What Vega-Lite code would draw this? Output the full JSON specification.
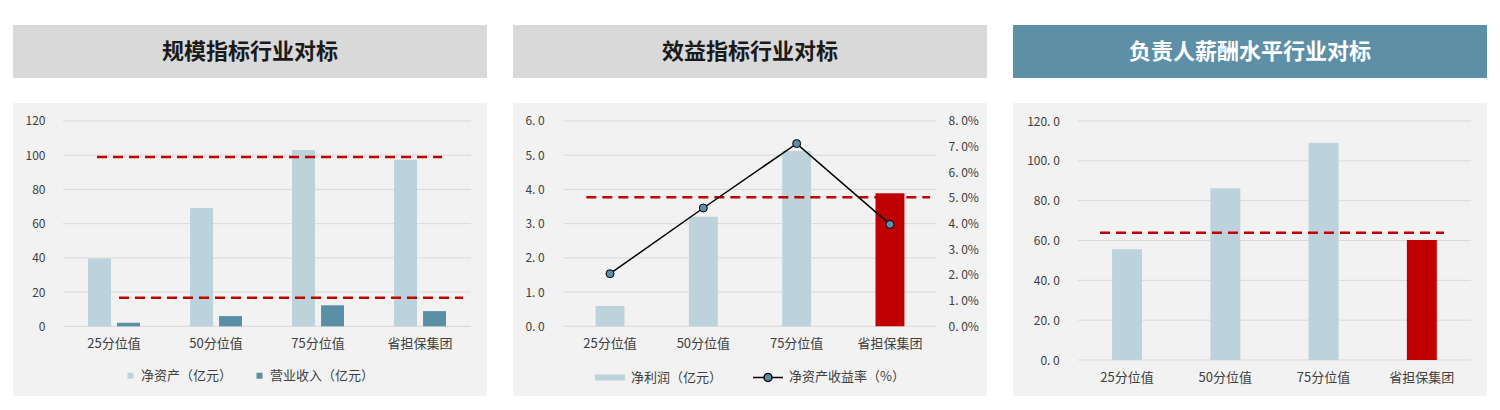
{
  "$schema": "https://vega.github.io/schema/vega-lite/v6.json",
  "padding": {"left": 13, "top": 25, "right": 0, "bottom": 0},
  "background": "white",
  "spacing": 26,
  "resolve": {"scale": {"color": "independent"}, "legend": {"color": "independent"}},
  "hconcat": [
    {
      "spacing": 25,
      "bounds": "flush",
      "resolve": {"scale": {"color": "independent"}, "legend": {"color": "independent"}},
      "vconcat": [
        {
          "width": 474,
          "height": 53,
          "view": {"fill": "#d9d9d9", "stroke": null},
          "data": {"values": [{"t": "规模指标行业对标"}]},
          "mark": {"type": "text", "fontSize": 22, "fontWeight": "bold", "color": "#1a1a1a"},
          "encoding": {"text": {"field": "t"}}
        },
        {
          "width": 474,
          "height": 293,
          "view": {"fill": "#f2f2f2", "stroke": null},
          "data": {
            "values": [
              {"cat": "25分位值", "s": "净资产（亿元）", "v": 39.7},
              {"cat": "50分位值", "s": "净资产（亿元）", "v": 69.1},
              {"cat": "75分位值", "s": "净资产（亿元）", "v": 103.0},
              {"cat": "省担保集团", "s": "净资产（亿元）", "v": 97.4},
              {"cat": "25分位值", "s": "营业收入（亿元）", "v": 2.1},
              {"cat": "50分位值", "s": "营业收入（亿元）", "v": 6.0},
              {"cat": "75分位值", "s": "营业收入（亿元）", "v": 12.3},
              {"cat": "省担保集团", "s": "营业收入（亿元）", "v": 8.9}
            ]
          },
          "encoding": {
            "x": {
              "field": "cat", "type": "nominal", "title": null,
              "scale": {"paddingInner": 0, "paddingOuter": 0.3235, "align": 0.758},
              "axis": {"orient": "bottom", "offset": -69.7, "labelAngle": 0, "labelPadding": 11, "labelFontSize": 13}
            },
            "y": {
              "field": "v", "type": "quantitative", "title": null,
              "scale": {"domain": [-40.7, 130.5], "nice": false, "zero": false},
              "axis": {"values": [0, 20, 40, 60, 80, 100, 120], "offset": -34, "labelPadding": 2}
            }
          },
          "layer": [
            {
              "data": {"values": [{"v": 0}, {"v": 20}, {"v": 40}, {"v": 60}, {"v": 80}, {"v": 100}, {"v": 120}]},
              "mark": {"type": "rule", "color": "#d9d9d9", "strokeWidth": 1},
              "encoding": {
                "x": {"datum": "25分位值", "type": "nominal", "bandPosition": 0},
                "x2": {"datum": "省担保集团", "bandPosition": 1}
              }
            },
            {
              "mark": {"type": "bar"},
              "encoding": {
                "xOffset": {"field": "s", "type": "nominal", "scale": {"paddingInner": 0.207, "paddingOuter": 0.862}},
                "color": {
                  "field": "s", "type": "nominal",
                  "scale": {"domain": ["净资产（亿元）", "营业收入（亿元）"], "range": ["#bdd3dc", "#5b8fa6"]},
                  "legend": {
                    "orient": "none", "legendX": 111, "legendY": 266, "direction": "horizontal",
                    "title": null, "symbolType": "square", "symbolSize": 36,
                    "labelFontSize": 13, "labelOffset": 4, "columnPadding": 20
                  }
                }
              }
            },
            {
              "data": {"values": [{"from": "25分位值", "to": "省担保集团", "v": 98.9}]},
              "mark": {"type": "rule", "color": "#c00000", "strokeWidth": 2.5, "strokeDash": [10, 6]},
              "encoding": {
                "x": {"field": "from", "type": "nominal", "bandPosition": 0.333},
                "x2": {"field": "to", "bandPosition": 0.716}
              }
            },
            {
              "data": {"values": [{"from": "25分位值", "to": "省担保集团", "v": 16.7}]},
              "mark": {"type": "rule", "color": "#c00000", "strokeWidth": 2.5, "strokeDash": [10, 6]},
              "encoding": {
                "x": {"field": "from", "type": "nominal", "bandPosition": 0.549},
                "x2": {"field": "to", "bandPosition": 0.922}
              }
            }
          ]
        }
      ]
    },
    {
      "spacing": 25,
      "bounds": "flush",
      "resolve": {"scale": {"color": "independent"}, "legend": {"color": "independent"}},
      "vconcat": [
        {
          "width": 474,
          "height": 53,
          "view": {"fill": "#d9d9d9", "stroke": null},
          "data": {"values": [{"t": "效益指标行业对标"}]},
          "mark": {"type": "text", "fontSize": 22, "fontWeight": "bold", "color": "#1a1a1a"},
          "encoding": {"text": {"field": "t"}}
        },
        {
          "width": 474,
          "height": 293,
          "view": {"fill": "#f2f2f2", "stroke": null},
          "data": {
            "values": [
              {"cat": "25分位值", "s": "净利润（亿元）", "v": 0.59, "r": 0.0205},
              {"cat": "50分位值", "s": "净利润（亿元）", "v": 3.2, "r": 0.0461},
              {"cat": "75分位值", "s": "净利润（亿元）", "v": 5.12, "r": 0.0712},
              {"cat": "省担保集团", "s": "净利润（亿元）", "v": 3.89, "r": 0.0397}
            ]
          },
          "encoding": {
            "x": {
              "field": "cat", "type": "nominal", "title": null,
              "scale": {"paddingInner": 0, "paddingOuter": 0.54, "align": 0.5},
              "axis": {"orient": "bottom", "offset": -69.7, "labelAngle": 0, "labelPadding": 11, "labelFontSize": 13}
            }
          },
          "layer": [
            {
              "encoding": {
                "y": {
                  "field": "v", "type": "quantitative", "title": null,
                  "scale": {"domain": [-2.037, 6.526], "nice": false, "zero": false},
                  "axis": {
                    "values": [0, 1, 2, 3, 4, 5, 6], "offset": -33.3, "labelPadding": 2,
                    "labelExpr": "replace(format(datum.value, '.1f'), '.', '. ')"
                  }
                }
              },
              "layer": [
                {
                  "data": {"values": [{"v": 0}, {"v": 1}, {"v": 2}, {"v": 3}, {"v": 4}, {"v": 5}, {"v": 6}]},
                  "mark": {"type": "rule", "color": "#d9d9d9", "strokeWidth": 1},
                  "encoding": {
                    "x": {"datum": "25分位值", "type": "nominal", "bandPosition": 0},
                    "x2": {"datum": "省担保集团", "bandPosition": 1}
                  }
                },
                {
                  "mark": {"type": "bar", "width": {"band": 0.31}},
                  "encoding": {
                    "color": {
                      "field": "s", "type": "nominal",
                      "condition": {"test": "datum.cat === '省担保集团'", "value": "#c00000"},
                      "scale": {"domain": ["净利润（亿元）", "净资产收益率（%）"], "range": ["#bdd3dc", "#5b8fa6"]},
                      "legend": {
                        "orient": "none", "legendX": 81, "legendY": 258, "direction": "horizontal",
                        "title": null, "symbolSize": 900,
                        "labelFontSize": 13, "labelOffset": 5, "columnPadding": 27,
                        "encode": {
                          "symbols": {
                            "update": {
                              "shape": {"signal": "datum.value === '净利润（亿元）' ? 'M-1,-0.2H1V0.2H-1Z' : 'M-1,0H-0.267M0.267,0H1M0.267,0A0.267,0.267,0,1,1,-0.267,0A0.267,0.267,0,1,1,0.267,0Z'"},
                              "stroke": {"signal": "datum.value === '净利润（亿元）' ? 'transparent' : 'black'"},
                              "strokeWidth": {"value": 1.5},
                              "opacity": {"value": 1}
                            }
                          }
                        }
                      }
                    }
                  }
                },
                {
                  "data": {"values": [{"from": "25分位值", "to": "省担保集团", "v": 3.77}]},
                  "mark": {"type": "rule", "color": "#c00000", "strokeWidth": 2.5, "strokeDash": [10, 6]},
                  "encoding": {
                    "x": {"field": "from", "type": "nominal", "bandPosition": 0.246},
                    "x2": {"field": "to", "bandPosition": 0.93}
                  }
                }
              ]
            },
            {
              "encoding": {
                "y": {
                  "field": "r", "type": "quantitative", "title": null,
                  "scale": {"domain": [-0.02716, 0.08701], "nice": false, "zero": false},
                  "axis": {
                    "orient": "right", "values": [0, 0.01, 0.02, 0.03, 0.04, 0.05, 0.06, 0.07, 0.08],
                    "offset": -41, "labelPadding": 2,
                    "labelExpr": "replace(format(datum.value, '.1%'), '.', '. ')"
                  }
                }
              },
              "layer": [
                {"mark": {"type": "line", "color": "black", "strokeWidth": 1.5}},
                {"mark": {"type": "circle", "color": "#5b8fa6", "stroke": "black", "strokeWidth": 1, "size": 64, "opacity": 1}}
              ]
            }
          ],
          "resolve": {"scale": {"y": "independent"}}
        }
      ]
    },
    {
      "spacing": 25,
      "bounds": "flush",
      "vconcat": [
        {
          "width": 474,
          "height": 53,
          "view": {"fill": "#5d90a7", "stroke": null},
          "data": {"values": [{"t": "负责人薪酬水平行业对标"}]},
          "mark": {"type": "text", "fontSize": 22, "fontWeight": "bold", "color": "white"},
          "encoding": {"text": {"field": "t"}}
        },
        {
          "width": 474,
          "height": 293,
          "view": {"fill": "#f2f2f2", "stroke": null},
          "data": {
            "values": [
              {"cat": "25分位值", "v": 55.6},
              {"cat": "50分位值", "v": 86.3},
              {"cat": "75分位值", "v": 109.1},
              {"cat": "省担保集团", "v": 60.2}
            ]
          },
          "encoding": {
            "x": {
              "field": "cat", "type": "nominal", "title": null,
              "scale": {"paddingInner": 0, "paddingOuter": 0.412, "align": 0.802},
              "axis": {"orient": "bottom", "offset": -36, "labelAngle": 0, "labelPadding": 11, "labelFontSize": 13}
            },
            "y": {
              "field": "v", "type": "quantitative", "title": null,
              "scale": {"domain": [-18.07, 129.04], "nice": false, "zero": false},
              "axis": {
                "values": [0, 20, 40, 60, 80, 100, 120], "offset": -48.3, "labelPadding": 2,
                "labelExpr": "replace(format(datum.value, '.1f'), '.', '. ')"
              }
            }
          },
          "layer": [
            {
              "data": {"values": [{"v": 0}, {"v": 20}, {"v": 40}, {"v": 60}, {"v": 80}, {"v": 100}, {"v": 120}]},
              "mark": {"type": "rule", "color": "#d9d9d9", "strokeWidth": 1},
              "encoding": {
                "x": {"datum": "25分位值", "type": "nominal", "bandPosition": 0},
                "x2": {"datum": "省担保集团", "bandPosition": 1}
              }
            },
            {
              "mark": {"type": "bar", "width": {"band": 0.305}},
              "encoding": {
                "color": {
                  "condition": {"test": "datum.cat === '省担保集团'", "value": "#c00000"},
                  "value": "#bdd3dc"
                }
              }
            },
            {
              "data": {"values": [{"from": "25分位值", "to": "省担保集团", "v": 63.9}]},
              "mark": {"type": "rule", "color": "#c00000", "strokeWidth": 2.5, "strokeDash": [10, 6]},
              "encoding": {
                "x": {"field": "from", "type": "nominal", "bandPosition": 0.224},
                "x2": {"field": "to", "bandPosition": 0.725}
              }
            }
          ]
        }
      ]
    }
  ],
  "config": {
    "font": "Noto Sans CJK SC",
    "view": {"stroke": null},
    "axis": {
      "domain": false, "ticks": false, "tickSize": 0, "grid": false,
      "labelColor": "#404040", "labelFontSize": 12
    },
    "legend": {"labelColor": "#404040", "labelFontSize": 13}
  }
}
